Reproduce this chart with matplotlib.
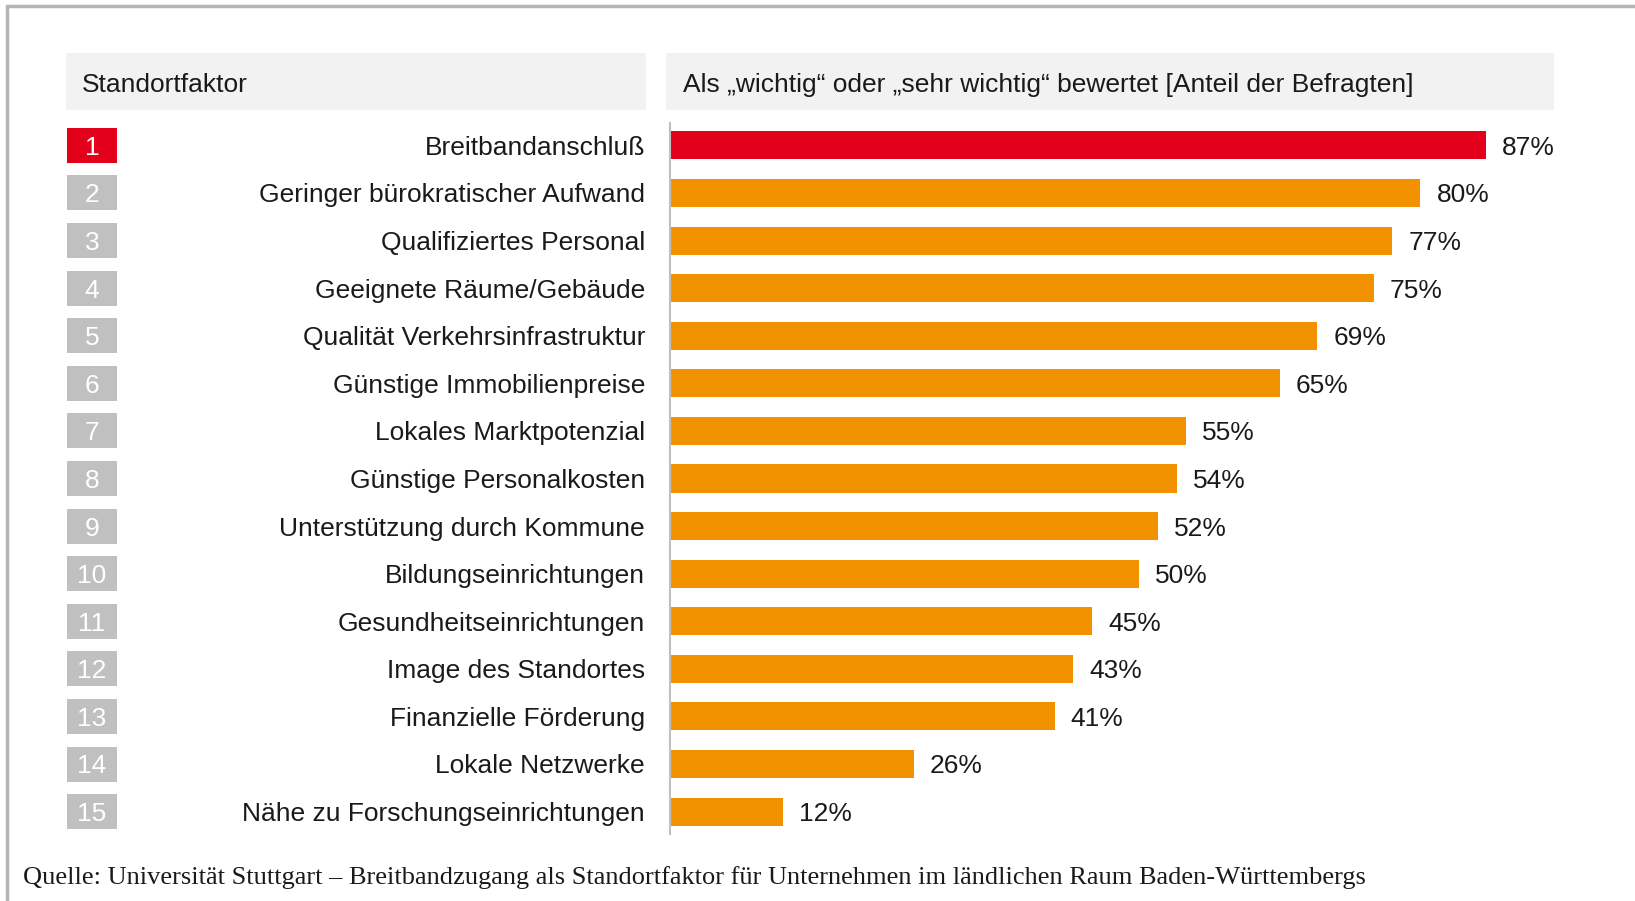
import matplotlib
matplotlib.use("Agg")
import matplotlib.pyplot as plt
from matplotlib.patches import Rectangle
from matplotlib.transforms import blended_transform_factory, offset_copy

categories = [
    "Breitbandanschluß",
    "Geringer bürokratischer Aufwand",
    "Qualifiziertes Personal",
    "Geeignete Räume/Gebäude",
    "Qualität Verkehrsinfrastruktur",
    "Günstige Immobilienpreise",
    "Lokales Marktpotenzial",
    "Günstige Personalkosten",
    "Unterstützung durch Kommune",
    "Bildungseinrichtungen",
    "Gesundheitseinrichtungen",
    "Image des Standortes",
    "Finanzielle Förderung",
    "Lokale Netzwerke",
    "Nähe zu Forschungseinrichtungen",
]
values = [87, 80, 77, 75, 69, 65, 55, 54, 52, 50, 45, 43, 41, 26, 12]
ranks = list(range(1, 16))
header_left = "Standortfaktor"
header_right = "Als \u201ewichtig\u201c oder \u201esehr wichtig\u201c bewertet [Anteil der Befragten]"
source = "Quelle: Universität Stuttgart \u2013 Breitbandzugang als Standortfaktor für Unternehmen im ländlichen Raum Baden-Württembergs"

RED = "#e2001a"
ORANGE = "#f39200"
GREY = "#c0c0c0"
HEADBG = "#f2f2f2"
SANS = "Liberation Sans"
SERIF = "Liberation Serif"
FS = 19
CAP_HALF = FS * 100 / 72 * 0.716 / 2  # half cap height in pixels

W, H = 1635, 901
fig = plt.figure(figsize=(W / 100, H / 100), dpi=100)

def fx(px):
    return px / W

def fy(py):
    return 1 - py / H

# frame
fig.patches.append(Rectangle((fx(7), fy(H + 20)), fx(W + 20), (H + 20 - 6) / H,
                             transform=fig.transFigure, fill=False,
                             edgecolor="#b4b4b4", linewidth=2.5))

# headers
fig.patches.append(Rectangle((fx(66), fy(110)), fx(646 - 66), (110 - 53) / H,
                             transform=fig.transFigure, facecolor=HEADBG, edgecolor="none"))
fig.patches.append(Rectangle((fx(666), fy(110)), fx(1554 - 666), (110 - 53) / H,
                             transform=fig.transFigure, facecolor=HEADBG, edgecolor="none"))
fig.text(fx(82), fy(83 + CAP_HALF), header_left, fontsize=FS, family=SANS,
         va="baseline", ha="left", color="#1a1a1a")
fig.text(fx(683), fy(83 + CAP_HALF), header_right, fontsize=FS, family=SANS,
         va="baseline", ha="left", color="#1a1a1a")

# axes for bars
ax_left, ax_right = 670, 1608
ax_top, ax_bot = 123, 834
ax = fig.add_axes([fx(ax_left), fy(ax_bot), fx(ax_right - ax_left), (ax_bot - ax_top) / H])
ax.set_xlim(0, 100)
ax.set_ylim(14.47, -0.47)
ypos = list(range(len(categories)))
colors = [RED] + [ORANGE] * (len(categories) - 1)
ax.barh(ypos, values, height=0.59, color=colors, edgecolor="none")
for y, v in zip(ypos, values):
    ax.annotate(f"{v}%", (v, y), xytext=(16, -CAP_HALF), textcoords="offset pixels",
                va="baseline", ha="left", fontsize=FS, family=SANS, color="#1a1a1a")
for s in ["top", "right", "bottom"]:
    ax.spines[s].set_visible(False)
ax.spines["left"].set_color("#bfbfbf")
ax.spines["left"].set_linewidth(1.5)
ax.set_xticks([])
ax.set_yticks([])
ax.patch.set_alpha(0)

# labels and rank boxes
tr = blended_transform_factory(fig.transFigure, ax.transData)
tr_txt = offset_copy(tr, fig=fig, y=-CAP_HALF, units="dots")
for y, (c, r) in enumerate(zip(categories, ranks)):
    fig.text(fx(645), y, c, transform=tr_txt, fontsize=FS, family=SANS,
             va="baseline", ha="right", color="#1a1a1a")
    box_h = 0.736
    rect = Rectangle((fx(67), y - box_h / 2), fx(117 - 67), box_h, transform=tr,
                     facecolor=RED if r == 1 else GREY, edgecolor="none", clip_on=False)
    fig.patches.append(rect)
    fig.text(fx(92), y, str(r), transform=tr_txt, fontsize=FS, family=SANS,
             va="baseline", ha="center", color="white")

fig.text(fx(23), fy(878), source, fontsize=19, family=SERIF, va="center", ha="left", color="#1a1a1a")

fig.savefig("out.png", dpi=100)
